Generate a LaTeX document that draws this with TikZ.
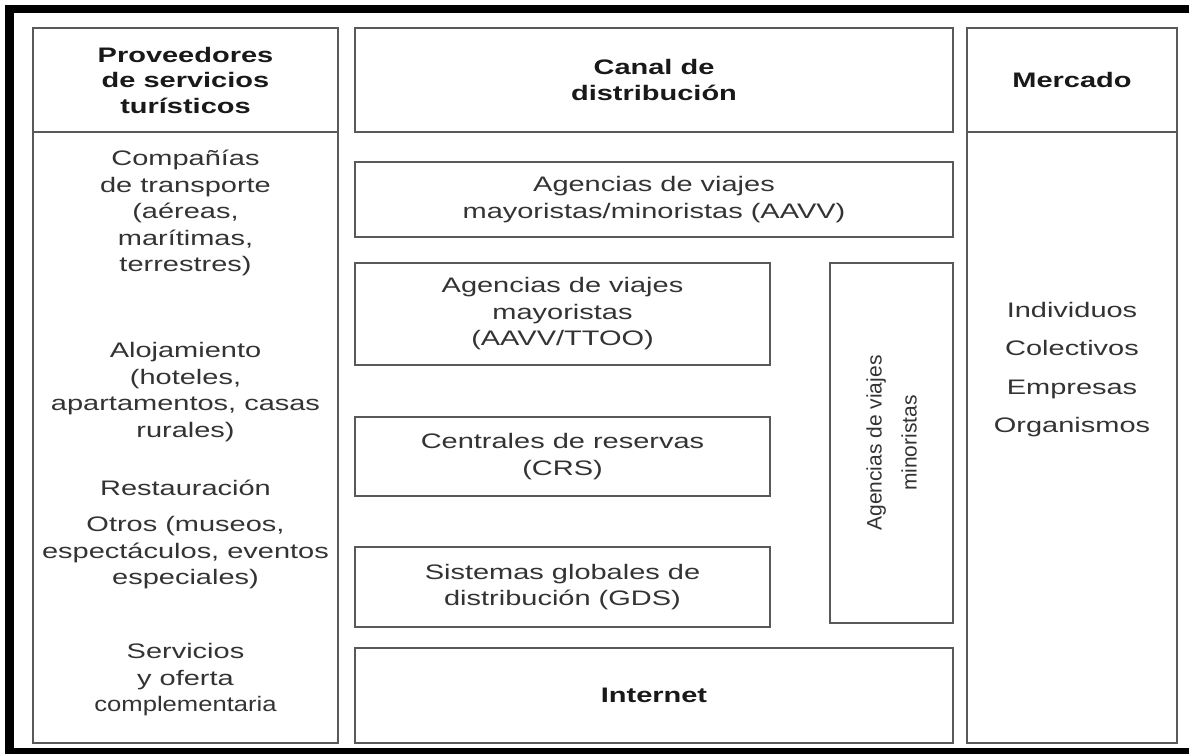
\documentclass[tikz,border=0pt]{standalone}
\usepackage{fontspec}
\setmainfont{Liberation Sans}[FakeStretch=1.38]
\newfontfamily\plainsans{Liberation Sans}
\newfontfamily\narrowsans{Liberation Sans}[FakeStretch=1.22]
\usepackage{tikz}

\begin{document}
\begin{tikzpicture}[x=0.5pt, y=-0.5pt,
    box/.style={draw=black!65, line width=1.2pt, inner sep=0pt, align=center,
      text=black!80, font=\fontsize{10.5pt}{13.25pt}\selectfont},
    head/.style={box, text=black!90, font=\fontsize{10.5pt}{12.75pt}\selectfont\bfseries},
    txt/.style={align=center, inner sep=0pt, text=black!80,
      font=\fontsize{10.5pt}{13.25pt}\selectfont}]
  \useasboundingbox[fill=white] (0,0) rectangle (1189,754);
  % marco negro
  \fill (5,5) rectangle (1189,13);
  \fill (5,5) rectangle (14,754);
  \fill (5,748) rectangle (1189,754);

  % proveedores
  \node[head, minimum width=152.5pt, minimum height=52pt] (prov) at (185.5,80) {Proveedores\\de servicios\\turísticos};
  \node[box, minimum width=152.5pt, minimum height=305.5pt] (provcol) at (185.5,437.5) {};
  \node[txt] (trans) at (185.5,213) {Compañías\\de transporte\\(aéreas,\\marítimas,\\terrestres)};
  \node[txt] (aloj) at (185.5,392) {Alojamiento\\(hoteles,\\apartamentos, casas\\rurales)};
  \node[txt] (rest) at (185.5,488) {Restauración};
  \node[txt] (otros) at (185.5,553) {Otros (museos,\\espectáculos, eventos\\especiales)};
  \node[txt] (serv) at (185.5,680) {Servicios\\y oferta\\{\narrowsans complementaria}};

  % canal de distribucion
  \node[head, minimum width=299pt, minimum height=52pt] (canal) at (654,80) {Canal de\\distribución};
  \node[box, minimum width=299pt, minimum height=37.5pt] (aavv) at (654,199.5) {Agencias de viajes\\mayoristas/minoristas (AAVV)};
  \node[box, minimum width=207.5pt, minimum height=51pt] (mayor) at (562.5,314) {Agencias de viajes\\mayoristas\\(AAVV/TTOO)};
  \node[box, minimum width=207.5pt, minimum height=39.5pt] (crs) at (562.5,456.5) {Centrales de reservas\\(CRS)};
  \node[box, minimum width=207.5pt, minimum height=40pt] (gds) at (562.5,587) {Sistemas globales de\\distribución (GDS)};
  \node[box, rotate=90, minimum width=180pt, minimum height=61.5pt,
    font=\plainsans\fontsize{10.5pt}{17.5pt}\selectfont] (minor) at (891.5,443) {Agencias de viajes\\minoristas};
  \node[head, minimum width=299pt, minimum height=47.5pt] (inet) at (654,695.5) {Internet};

  % mercado
  \node[head, minimum width=105pt, minimum height=52pt] (merc) at (1072,80) {Mercado};
  \node[box, minimum width=105pt, minimum height=305.5pt] (merccol) at (1072,437.5) {};
  \foreach \i/\name in {0/Individuos, 1/Colectivos, 2/Empresas, 3/Organismos} {
    \node[txt, anchor=base] (m\i) at (1072,{318+38*\i}) {\name};
  };
\end{tikzpicture}
\end{document}
